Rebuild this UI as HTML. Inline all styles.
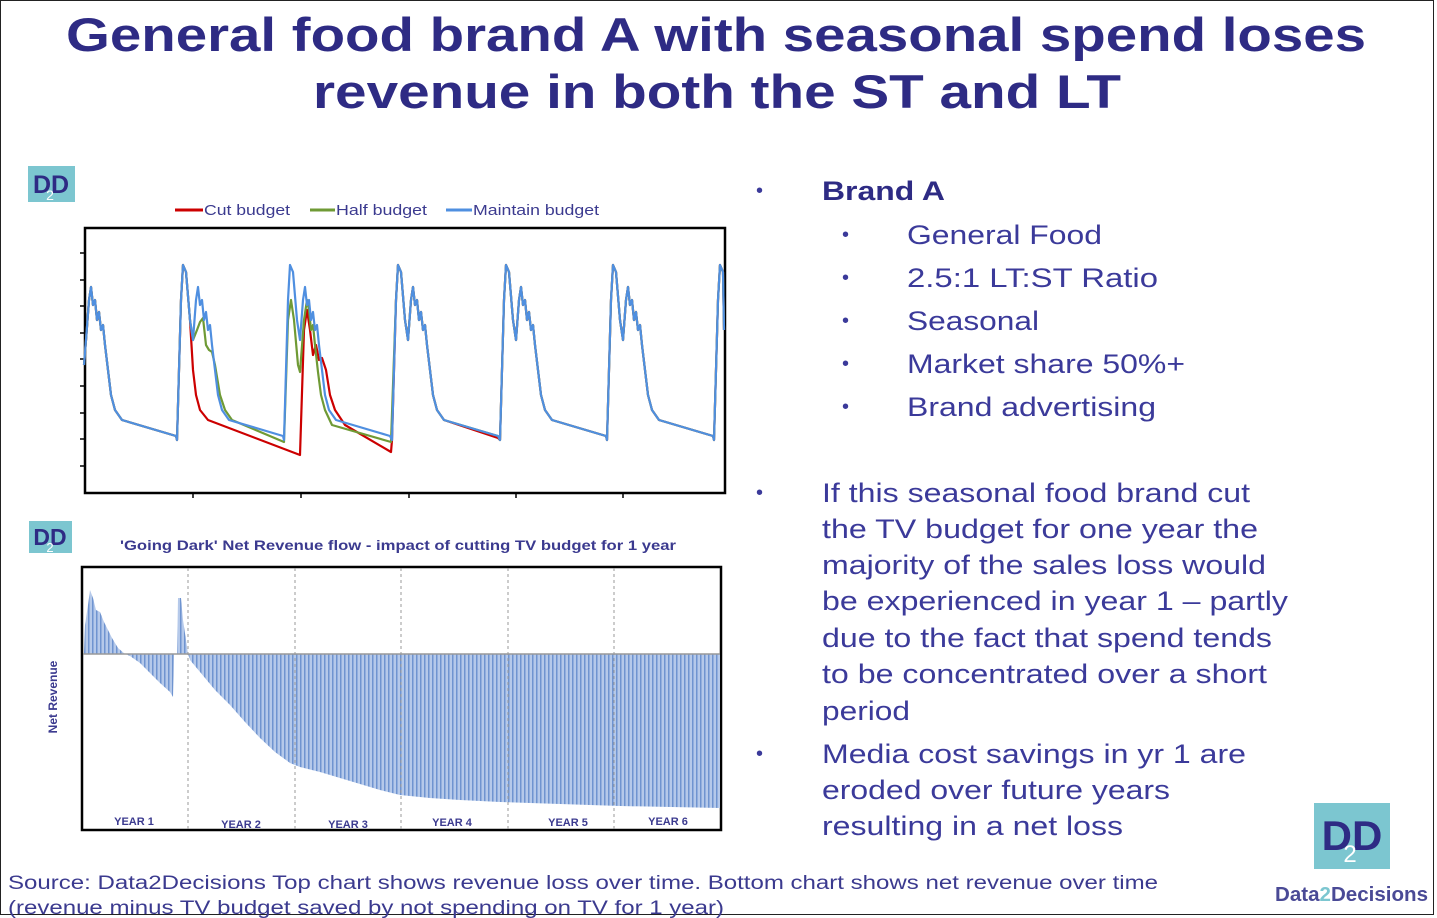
<!DOCTYPE html>
<html><head><meta charset="utf-8"><style>
html,body{margin:0;padding:0;background:#fff}
body{width:1437px;height:918px;overflow:hidden;position:relative;font-family:"Liberation Sans",sans-serif}
.frame{position:absolute;left:0;top:0;width:1434px;height:915px;border:1.5px solid #222;box-sizing:border-box}
</style></head><body>
<div class="frame"></div>
<svg width="1437" height="918" style="position:absolute;left:0;top:0" xmlns="http://www.w3.org/2000/svg" font-family="Liberation Sans, sans-serif">
<defs>
<pattern id="bars" width="4" height="10" patternUnits="userSpaceOnUse">
<rect width="4" height="10" fill="#b5c9ea"/><rect width="1.5" height="10" fill="#6f94d0"/>
</pattern>
</defs>
<!-- Title -->
<text x="66" y="51" textLength="1300" lengthAdjust="spacingAndGlyphs" font-size="47" font-weight="bold" fill="#2e2b84">General food brand A with seasonal spend loses</text>
<text x="313" y="108" textLength="808" lengthAdjust="spacingAndGlyphs" font-size="47" font-weight="bold" fill="#2e2b84">revenue in both the ST and LT</text>

<!-- logos -->
<g><rect x="28" y="166" width="47" height="36" fill="#7cc6d0"/>
<text x="51" y="193" text-anchor="middle" font-size="25" font-weight="bold" fill="#2e2b84">DD</text>
<text x="50" y="200" text-anchor="middle" font-size="14" fill="#fff">2</text></g>
<g><rect x="29" y="521" width="43" height="32" fill="#7cc6d0"/>
<text x="50" y="545" text-anchor="middle" font-size="23" font-weight="bold" fill="#2e2b84">DD</text>
<text x="50" y="552" text-anchor="middle" font-size="13" fill="#fff">2</text></g>
<g><rect x="1314" y="803" width="76" height="66" fill="#7cc6d0"/>
<text x="1352" y="850" text-anchor="middle" font-size="42" font-weight="bold" fill="#2e2b84">DD</text>
<text x="1350" y="862" text-anchor="middle" font-size="24" fill="#fff">2</text>
<text x="1275" y="901" textLength="153" lengthAdjust="spacingAndGlyphs" font-size="20" font-weight="bold" fill="#4a4a96">Data<tspan fill="#7cc6d0">2</tspan>Decisions</text></g>

<!-- top legend -->
<line x1="175" y1="210" x2="203" y2="210" stroke="#cc0000" stroke-width="3"/>
<text x="204" y="215" textLength="86" lengthAdjust="spacingAndGlyphs" font-size="15" fill="#3b3a8f">Cut budget</text>
<line x1="310" y1="210" x2="335" y2="210" stroke="#6f9a35" stroke-width="3"/>
<text x="336" y="215" textLength="91" lengthAdjust="spacingAndGlyphs" font-size="15" fill="#3b3a8f">Half budget</text>
<line x1="446" y1="210" x2="472" y2="210" stroke="#4f8fe0" stroke-width="3"/>
<text x="473" y="215" textLength="126" lengthAdjust="spacingAndGlyphs" font-size="15" fill="#3b3a8f">Maintain budget</text>

<!-- top chart -->
<rect x="85" y="228" width="640" height="265" fill="#fff" stroke="#000" stroke-width="2.5"/>
<g stroke="#000" stroke-width="1.5">
<line x1="80" y1="253" x2="85" y2="253"/><line x1="80" y1="280" x2="85" y2="280"/><line x1="80" y1="306" x2="85" y2="306"/><line x1="80" y1="333" x2="85" y2="333"/><line x1="80" y1="359" x2="85" y2="359"/><line x1="80" y1="386" x2="85" y2="386"/><line x1="80" y1="413" x2="85" y2="413"/><line x1="80" y1="439" x2="85" y2="439"/><line x1="80" y1="466" x2="85" y2="466"/>
<line x1="193" y1="493" x2="193" y2="498"/><line x1="301" y1="493" x2="301" y2="498"/><line x1="409" y1="493" x2="409" y2="498"/><line x1="516" y1="493" x2="516" y2="498"/><line x1="623" y1="493" x2="623" y2="498"/>
</g>
<g id="lines" fill="none" stroke-width="2.2" stroke-linejoin="round"></g>

<!-- bottom chart -->
<text x="120" y="550" textLength="556" lengthAdjust="spacingAndGlyphs" font-size="14" font-weight="bold" fill="#3b3a8f">'Going Dark' Net Revenue flow - impact of cutting TV budget for 1 year</text>
<text transform="translate(57,697) rotate(-90)" text-anchor="middle" font-size="12" font-weight="bold" fill="#3b3a8f">Net Revenue</text>
<rect x="82" y="567" width="639" height="263" fill="#fff" stroke="#000" stroke-width="2.5"/>
<polygon fill="url(#bars)" points="84,654 85,625 88,605 90,590 93,598 96,610 100,612 104,622 108,630 112,638 118,648 125,654 130,656 140,663 150,673 160,683 170,692 173,697 174,654 177,654 178,598 181,598 183,620 186,640 188,654 190,660 200,672 215,690 230,705 245,722 260,738 275,752 290,763 300,767 320,772 340,778 360,784 380,790 400,795 430,798 460,800 500,802 560,804 620,806 720,808 720,654"/>
<line x1="83" y1="654" x2="720" y2="654" stroke="#999" stroke-width="1.5"/>
<g stroke="#999" stroke-width="1" stroke-dasharray="3,3">
<line x1="188" y1="568" x2="188" y2="829"/><line x1="295" y1="568" x2="295" y2="829"/><line x1="401" y1="568" x2="401" y2="829"/><line x1="508" y1="568" x2="508" y2="829"/><line x1="614" y1="568" x2="614" y2="829"/>
</g>
<g font-size="11" font-weight="bold" fill="#3b3a8f" text-anchor="middle">
<text x="134" y="825">YEAR 1</text><text x="241" y="828">YEAR 2</text><text x="348" y="828">YEAR 3</text><text x="452" y="826">YEAR 4</text><text x="568" y="826">YEAR 5</text><text x="668" y="825">YEAR 6</text>
</g>

<!-- right text -->
<g fill="#3b3a9a" font-size="27" lengthAdjust="spacingAndGlyphs">
<text x="756" y="197" font-size="20">•</text>
<text x="822" y="200" textLength="123" lengthAdjust="spacingAndGlyphs" font-weight="bold" fill="#2e2b84">Brand A</text>
<text x="842" y="241" font-size="20">•</text><text x="907" y="244" textLength="195" lengthAdjust="spacingAndGlyphs">General Food</text>
<text x="842" y="284" font-size="20">•</text><text x="907" y="287" textLength="251" lengthAdjust="spacingAndGlyphs">2.5:1 LT:ST Ratio</text>
<text x="842" y="327" font-size="20">•</text><text x="907" y="330" textLength="132" lengthAdjust="spacingAndGlyphs">Seasonal</text>
<text x="842" y="370" font-size="20">•</text><text x="907" y="373" textLength="278" lengthAdjust="spacingAndGlyphs">Market share 50%+</text>
<text x="842" y="413" font-size="20">•</text><text x="907" y="416" textLength="249" lengthAdjust="spacingAndGlyphs">Brand advertising</text>
<text x="756" y="499" font-size="20">•</text>
<text x="822" y="502" textLength="428" lengthAdjust="spacingAndGlyphs">If this seasonal food brand cut</text>
<text x="822" y="538" textLength="436" lengthAdjust="spacingAndGlyphs">the TV budget for one year the</text>
<text x="822" y="574" textLength="444" lengthAdjust="spacingAndGlyphs">majority of the sales loss would</text>
<text x="822" y="610" textLength="466" lengthAdjust="spacingAndGlyphs">be experienced in year 1 – partly</text>
<text x="822" y="647" textLength="450" lengthAdjust="spacingAndGlyphs">due to the fact that spend tends</text>
<text x="822" y="683" textLength="445" lengthAdjust="spacingAndGlyphs">to be concentrated over a short</text>
<text x="822" y="720" textLength="88" lengthAdjust="spacingAndGlyphs">period</text>
<text x="756" y="760" font-size="20">•</text>
<text x="822" y="763" textLength="424" lengthAdjust="spacingAndGlyphs">Media cost savings in yr 1 are</text>
<text x="822" y="799" textLength="348" lengthAdjust="spacingAndGlyphs">eroded over future years</text>
<text x="822" y="835" textLength="301" lengthAdjust="spacingAndGlyphs">resulting in a net loss</text>
</g>
<g fill="#3b3a8f" font-size="19">
<text x="8" y="889" textLength="1150" lengthAdjust="spacingAndGlyphs">Source: Data2Decisions Top chart shows revenue loss over time. Bottom chart shows net revenue over time</text>
<text x="8" y="914" textLength="716" lengthAdjust="spacingAndGlyphs">(revenue minus TV budget saved by not spending on TV for 1 year)</text>
</g>
</svg>
<script>
(function(){
var T=[[0,440],[4,300],[6,265],[9,272],[13,320],[16,340],[19,300],[21,287],[23,305],[25,300],[27,320],[29,312],[31,330],[33,325],[35,345],[38,370],[41,395],[45,410],[52,420],[106,436]];
var t0=[70,177,284,392,500,607,714];
function cyc(s,clipA,clipB,endY){var o=[];T.forEach(function(p,i){var y=p[1];if(i==T.length-1&&endY)y=endY;var x=s+p[0];if(x>=clipA&&x<=clipB)o.push([x,y]);});return o;}
function tail(){var o=[];[500,607,714].forEach(function(s){o=o.concat(cyc(s,s,724));});o.push([724,330]);return o;}
var blue=[[84,365]];
t0.forEach(function(s){blue=blue.concat(cyc(s,85,724));});
blue.push([724,330]);
function path(a){return 'M'+a.map(function(p){return p[0]+','+p[1]}).join(' L');}
var pre=[[84,365]].concat(cyc(70,85,176));
var green=pre.concat([[177,440],[181,300],[183,265],[186,272],[190,320],[193,340],[197,330],[200,322],[203,318],[206,345],[209,350],[212,352],[215,365],[220,395],[225,410],[232,420],[284,442],[288,320],[291,300],[294,320],[298,365],[300,372],[304,320],[307,300],[309,310],[311,330],[313,325],[315,345],[318,372],[321,395],[325,410],[332,425],[391,442]]).concat(cyc(392,393,499,436)).concat(tail());
var red=pre.concat([[177,440],[181,300],[183,265],[186,272],[190,320],[193,370],[196,395],[200,410],[208,420],[300,455],[304,330],[307,310],[310,330],[313,355],[316,345],[319,360],[322,358],[326,370],[330,395],[335,410],[345,425],[391,452],[392,440]]).concat(cyc(392,393,499,438)).concat(tail());
var g=document.getElementById('lines');
g.innerHTML='<path d="'+path(red)+'" stroke="#cc0000"/><path d="'+path(green)+'" stroke="#6f9a35"/><path d="'+path(blue)+'" stroke="#4f8fe0"/>';
})();
</script>
</body></html>
